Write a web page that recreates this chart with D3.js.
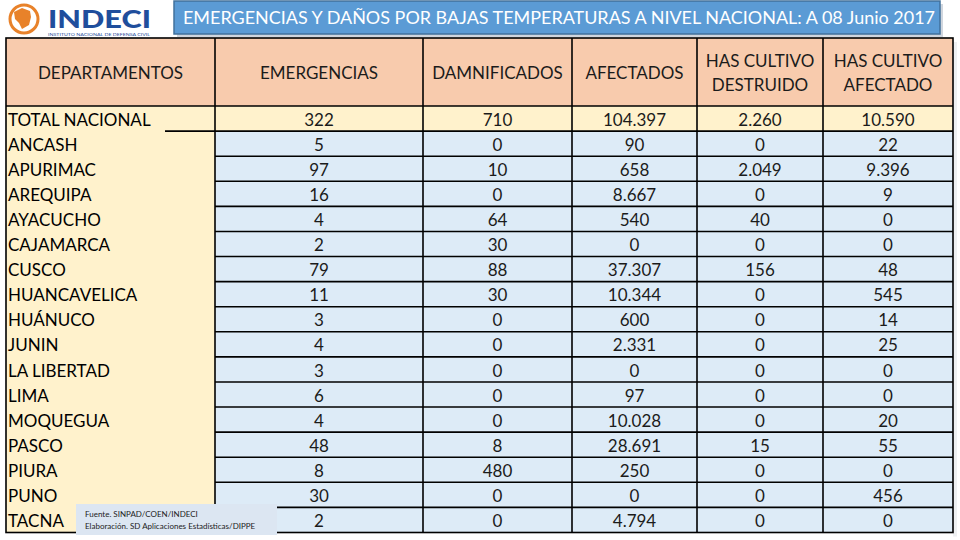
<!DOCTYPE html>
<html>
<head>
<meta charset="utf-8">
<script src="https://cdn.jsdelivr.net/npm/d3@7"></script>
<style>
  body { margin: 0; background: #fff; }
  svg { display: block; font-family: Lato, "Open Sans", sans-serif; }
</style>
</head>
<body>
<svg width="960" height="540"></svg>
<script>
// data
var departamentos = ["TOTAL NACIONAL", "ANCASH", "APURIMAC", "AREQUIPA", "AYACUCHO", "CAJAMARCA",
  "CUSCO", "HUANCAVELICA", "HUÁNUCO", "JUNIN", "LA LIBERTAD", "LIMA", "MOQUEGUA", "PASCO",
  "PIURA", "PUNO", "TACNA"];
var emergencias  = [322, 5, 97, 16, 4, 2, 79, 11, 3, 4, 3, 6, 4, 48, 8, 30, 2];
var damnificados = [710, 0, 10, 0, 64, 30, 88, 30, 0, 0, 0, 0, 0, 8, 480, 0, 0];
var afectados    = [104397, 90, 658, 8667, 540, 0, 37307, 10344, 600, 2331, 0, 97, 10028, 28691, 250, 0, 4794];
var hasDestruido = [2260, 0, 2049, 0, 40, 0, 156, 0, 0, 0, 0, 0, 0, 15, 0, 0, 0];
var hasAfectado  = [10590, 22, 9396, 9, 0, 0, 48, 545, 14, 25, 0, 0, 20, 55, 0, 456, 0];
var headers = [["DEPARTAMENTOS"], ["EMERGENCIAS"], ["DAMNIFICADOS"], ["AFECTADOS"],
  ["HAS CULTIVO", "DESTRUIDO"], ["HAS CULTIVO", "AFECTADO"]];
var titulo = "EMERGENCIAS Y DAÑOS POR BAJAS TEMPERATURAS A NIVEL NACIONAL: A 08 Junio 2017";
var fuente = ["Fuente. SINPAD/COEN/INDECI", "Elaboración. SD Aplicaciones Estadísticas/DIPPE"];

var svg = d3.select("svg");
var fs = 17;
var edges = [6, 215, 423, 572, 697, 823, 953];
var tableTop = 38, headBottom = 106, tableBottom = 532.5;
var y = d3.scaleBand().domain(d3.range(departamentos.length)).range([headBottom, tableBottom]);
var fmt = d3.formatLocale({decimal: ",", thousands: ".", grouping: [3], currency: ["S/", ""]}).format(",d");
var columnas = [emergencias, damnificados, afectados, hasDestruido, hasAfectado];
var txtColor = "#1b1b1b";

// soft shadow at right of the table
svg.append("rect").attr("x", edges[6]).attr("y", tableTop + 4).attr("width", 4)
  .attr("height", tableBottom - tableTop).attr("fill", "#eef0f2");

// header
svg.append("rect").attr("x", edges[0]).attr("y", tableTop).attr("width", edges[6] - edges[0])
  .attr("height", headBottom - tableTop).attr("fill", "#f8cbad");

// body backgrounds
svg.append("rect").attr("x", edges[0]).attr("y", headBottom).attr("width", edges[1] - edges[0])
  .attr("height", tableBottom - headBottom).attr("fill", "#fff2cc");
svg.append("rect").attr("x", edges[1]).attr("y", y(0)).attr("width", edges[6] - edges[1])
  .attr("height", y.bandwidth()).attr("fill", "#fff2cc");
svg.append("rect").attr("x", edges[1]).attr("y", y(1)).attr("width", edges[6] - edges[1])
  .attr("height", tableBottom - y(1)).attr("fill", "#ddebf7");

// header texts
headers.forEach(function(h, i) {
  var cx = (edges[i] + edges[i + 1]) / 2;
  var cy = (tableTop + headBottom) / 2;
  h.forEach(function(line, j) {
    var ly = cy + (j - (h.length - 1) / 2) * 24;
    svg.append("text").attr("x", cx).attr("y", ly + fs * 0.36 + 1)
      .attr("text-anchor", "middle").attr("font-size", fs).attr("fill", txtColor).text(line);
  });
});

// department names
svg.selectAll("text.dep").data(departamentos).enter().append("text")
  .attr("class", "dep").attr("x", edges[0] + 2)
  .attr("y", function(d, i) { return y(i) + y.bandwidth() / 2 + fs * 0.36 + 1; })
  .attr("font-size", fs).attr("fill", "#000").text(function(d) { return d; });

// numbers
columnas.forEach(function(col, c) {
  var cx = (edges[c + 1] + edges[c + 2]) / 2;
  svg.selectAll("text.c" + c).data(col).enter().append("text")
    .attr("class", "c" + c).attr("x", cx)
    .attr("y", function(d, i) { return y(i) + y.bandwidth() / 2 + fs * 0.36 + 1; })
    .attr("text-anchor", "middle").attr("font-size", fs).attr("fill", txtColor)
    .text(function(d) { return fmt(d); });
});

// grid lines
var grid = svg.append("g").attr("stroke", "#000").attr("stroke-width", 1.6).attr("fill", "none");
grid.selectAll("line.h").data(d3.range(1, departamentos.length)).enter().append("line")
  .attr("x1", function(d) { return d === 1 ? 165 : edges[1]; }).attr("x2", edges[6])
  .attr("y1", function(d) { return y(d); }).attr("y2", function(d) { return y(d); });
grid.append("line").attr("x1", edges[0]).attr("x2", edges[6]).attr("y1", headBottom).attr("y2", headBottom);
grid.selectAll("line.v").data(edges.slice(1, 6)).enter().append("line")
  .attr("x1", function(d) { return d; }).attr("x2", function(d) { return d; })
  .attr("y1", tableTop).attr("y2", tableBottom);
grid.append("rect").attr("x", edges[0]).attr("y", tableTop)
  .attr("width", edges[6] - edges[0]).attr("height", tableBottom - tableTop);

// source note box
svg.append("rect").attr("x", 76).attr("y", 504).attr("width", 201).attr("height", 31).attr("fill", "#dce6f2");
svg.selectAll("text.src").data(fuente).enter().append("text")
  .attr("class", "src").attr("x", 85).attr("y", function(d, i) { return 517 + i * 12; })
  .attr("font-size", 8).attr("fill", "#222").text(function(d) { return d; });

// title box
svg.append("rect").attr("x", 177).attr("y", 4).attr("width", 766).attr("height", 33).attr("fill", "#d0d6de");
svg.append("rect").attr("x", 174).attr("y", 1).attr("width", 766).attr("height", 33)
  .attr("fill", "#5b9bd5").attr("stroke", "#41719c").attr("stroke-width", 1.5);
svg.append("text").attr("x", 559).attr("y", 24).attr("text-anchor", "middle")
  .attr("font-size", 17.5).attr("fill", "#fff").attr("textLength", 752).attr("lengthAdjust", "spacingAndGlyphs")
  .text(titulo);

// logo
var logo = svg.append("g");
logo.append("circle").attr("cx", 24).attr("cy", 19).attr("r", 14).attr("fill", "#fff")
  .attr("stroke", "#e8822a").attr("stroke-width", 3);
logo.append("path").attr("d", "M14,12 L22,8 L30,11 L31,17 L29,25 L22,29 L19,23 L15,19 Z").attr("fill", "#e8822a");
logo.append("text").attr("x", 48).attr("y", 28).attr("font-size", 25).attr("font-weight", 900)
  .attr("fill", "#1f4e9c").attr("textLength", 103).attr("lengthAdjust", "spacingAndGlyphs").text("INDECI");
logo.append("text").attr("x", 48).attr("y", 36).attr("font-size", 4).attr("fill", "#1f4e9c")
  .attr("textLength", 102).attr("lengthAdjust", "spacingAndGlyphs").text("INSTITUTO NACIONAL DE DEFENSA CIVIL");
</script>
</body>
</html>
